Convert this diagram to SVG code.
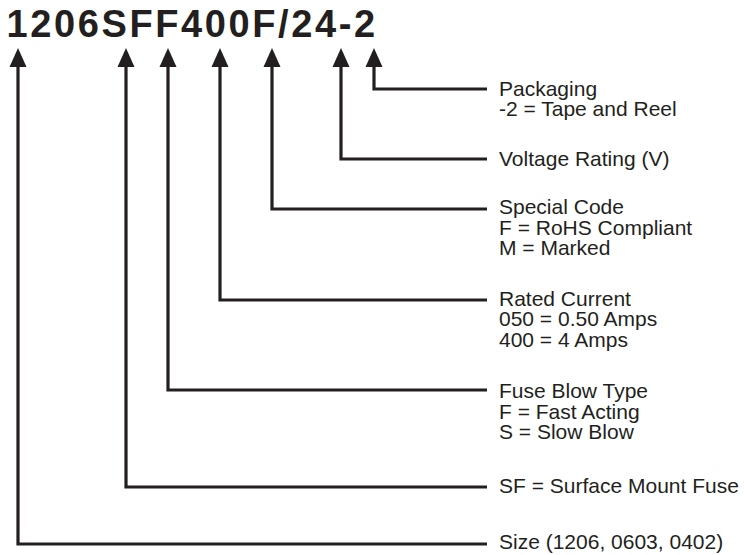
<svg xmlns="http://www.w3.org/2000/svg" width="744" height="555" viewBox="0 0 744 555">
  <style>
    .title { font-family: "Liberation Sans", Arial, sans-serif; font-weight: bold; font-size: 38px; letter-spacing: 2.6px; fill: #231f20; }
    .lbl { font-family: "Liberation Sans", Arial, sans-serif; font-size: 21px; fill: #231f20; }
    .conn { fill: none; stroke: #231f20; stroke-width: 3.2; stroke-linejoin: miter; stroke-linecap: butt; marker-end: url(#arrow); }
  </style>
  <defs>
    <marker id="arrow" viewBox="0 -8.5 19 17" refX="0" refY="0" markerWidth="19" markerHeight="17" markerUnits="userSpaceOnUse" orient="auto" overflow="visible">
      <path d="M0,-8.5 L19,0 L0,8.5 Z" fill="#231f20"/>
    </marker>
  </defs>
  <rect width="744" height="555" fill="#ffffff"/>

  <g id="part-number">
    <text class="title" x="6.5" y="37">1206SFF400F/24-2</text>
  </g>

  <g id="connectors">
    <path class="conn" d="M487,89 H374 V67"/>
    <path class="conn" d="M487,159 H341 V67"/>
    <path class="conn" d="M487,209 H272 V67"/>
    <path class="conn" d="M487,300 H220 V67"/>
    <path class="conn" d="M487,390 H168 V67"/>
    <path class="conn" d="M487,487 H126 V67"/>
    <path class="conn" d="M487,544 H18 V67"/>
  </g>

  <g id="packaging">
    <text class="lbl" x="499" y="95.5">Packaging</text>
    <text class="lbl" x="499" y="116">-2 = Tape and Reel</text>
  </g>
  <g id="voltage-rating">
    <text class="lbl" x="499" y="166">Voltage Rating (V)</text>
  </g>
  <g id="special-code">
    <text class="lbl" x="499" y="214">Special Code</text>
    <text class="lbl" x="499" y="234.5">F = RoHS Compliant</text>
    <text class="lbl" x="499" y="255">M = Marked</text>
  </g>
  <g id="rated-current">
    <text class="lbl" x="499" y="305.5">Rated Current</text>
    <text class="lbl" x="499" y="326">050 = 0.50 Amps</text>
    <text class="lbl" x="499" y="346.5">400 = 4 Amps</text>
  </g>
  <g id="fuse-blow-type">
    <text class="lbl" x="499" y="398">Fuse Blow Type</text>
    <text class="lbl" x="499" y="418.5">F = Fast Acting</text>
    <text class="lbl" x="499" y="439">S = Slow Blow</text>
  </g>
  <g id="surface-mount-fuse">
    <text class="lbl" x="499" y="493">SF = Surface Mount Fuse</text>
  </g>
  <g id="size">
    <text class="lbl" x="499" y="549">Size (1206, 0603, 0402)</text>
  </g>
</svg>
